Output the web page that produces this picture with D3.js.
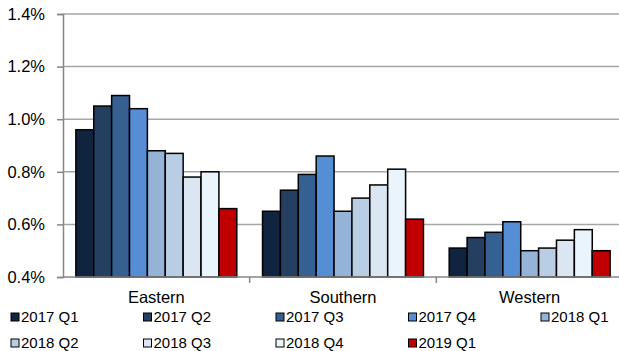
<!DOCTYPE html>
<html>
<head>
<meta charset="utf-8">
<script src="https://cdn.jsdelivr.net/npm/d3@7"></script>
<style>
  html, body { margin: 0; padding: 0; background: #fff; }
  svg { display: block; font-family: "Liberation Sans", Arial, sans-serif; }
</style>
</head>
<body>
<svg id="chart" width="619" height="351"></svg>
<script>
// Regions along the x axis
const regions = ["Eastern", "Southern", "Western"];
// Quarterly series, in legend order
const quarters = ["2017 Q1", "2017 Q2", "2017 Q3", "2017 Q4", "2018 Q1",
                  "2018 Q2", "2018 Q3", "2018 Q4", "2019 Q1"];
// Rates (%) per region, one value per quarter
const eastern  = [0.96, 1.05, 1.09, 1.04, 0.88, 0.87, 0.78, 0.80, 0.66];
const southern = [0.65, 0.73, 0.79, 0.86, 0.65, 0.70, 0.75, 0.81, 0.62];
const western  = [0.51, 0.55, 0.57, 0.61, 0.50, 0.51, 0.54, 0.58, 0.50];
const yTicks = [0.4, 0.6, 0.8, 1.0, 1.2, 1.4];
const colors = ["#10243f", "#243f60", "#366092", "#558ed5", "#95b3d7",
                "#b9cde5", "#dce6f2", "#eaf4fd", "#c00000"];

const values = { Eastern: eastern, Southern: southern, Western: western };

const svg = d3.select("#chart");
const plotLeft = 63, plotRight = 623, plotTop = 14, plotBottom = 277;
const fontFamily = "Liberation Sans, Arial, sans-serif";

const x0 = d3.scaleBand().domain(regions).range([plotLeft, plotRight]).paddingInner(0).paddingOuter(0);
const x1 = d3.scaleBand().domain(quarters).range([0, x0.bandwidth()]).paddingInner(0).paddingOuter(0.72);
const y = d3.scaleLinear().domain([0.4, 1.4]).range([plotBottom, plotTop]);
const color = d3.scaleOrdinal().domain(quarters).range(colors);

// Horizontal gridlines
svg.append("g")
  .selectAll("line")
  .data(yTicks.filter(t => t > 0.4))
  .join("line")
  .attr("x1", plotLeft).attr("x2", 619)
  .attr("y1", d => y(d)).attr("y2", d => y(d))
  .attr("stroke", "#a6a6a6").attr("stroke-width", 1.5);

// Y axis
const yAxis = svg.append("g")
  .attr("transform", `translate(${plotLeft},0)`)
  .call(d3.axisLeft(y).tickValues(yTicks).tickSize(6).tickPadding(12)
        .tickFormat(d => d.toFixed(1) + "%"));
yAxis.select(".domain").attr("stroke", "#868686").attr("stroke-width", 1.5);
yAxis.selectAll(".tick line").attr("stroke", "#868686").attr("stroke-width", 1.5);
yAxis.selectAll(".tick text").attr("font-size", 16.5).attr("fill", "#000")
  .attr("font-family", fontFamily);

// Bars
const groups = svg.append("g")
  .selectAll("g")
  .data(regions)
  .join("g")
  .attr("transform", d => `translate(${x0(d)},0)`);

groups.selectAll("rect")
  .data(r => quarters.map((q, i) => ({ q, v: values[r][i] })))
  .join("rect")
  .attr("x", d => x1(d.q))
  .attr("width", x1.bandwidth())
  .attr("y", d => y(d.v))
  .attr("height", d => plotBottom - y(d.v))
  .attr("fill", d => color(d.q))
  .attr("stroke", "#000")
  .attr("stroke-width", 1.5);

// X axis with category separators
const xAxisG = svg.append("g").attr("transform", `translate(0,${plotBottom})`);
xAxisG.append("line")
  .attr("x1", plotLeft).attr("x2", 619).attr("y1", 0).attr("y2", 0)
  .attr("stroke", "#868686").attr("stroke-width", 1.5);
xAxisG.selectAll("line.sep")
  .data(regions.slice(1))
  .join("line")
  .attr("class", "sep")
  .attr("x1", d => x0(d)).attr("x2", d => x0(d))
  .attr("y1", 0).attr("y2", 6)
  .attr("stroke", "#868686").attr("stroke-width", 1.5);
xAxisG.selectAll("text")
  .data(regions)
  .join("text")
  .attr("x", d => x0(d) + x0.bandwidth() / 2)
  .attr("y", 26)
  .attr("text-anchor", "middle")
  .attr("font-size", 16.5)
  .attr("font-family", fontFamily)
  .attr("fill", "#000")
  .text(d => d);

// Legend: two rows of five
const legend = svg.append("g");
const item = legend.selectAll("g")
  .data(quarters)
  .join("g")
  .attr("transform", (d, i) => `translate(${11 + (i % 5) * 132.5},${i < 5 ? 313 : 339})`);
item.append("rect")
  .attr("width", 8).attr("height", 8)
  .attr("fill", d => color(d))
  .attr("stroke", "#000").attr("stroke-width", 1);
item.append("text")
  .attr("x", 10).attr("y", 9)
  .attr("font-size", 15)
  .attr("font-family", fontFamily)
  .attr("fill", "#000")
  .text(d => d);
</script>
</body>
</html>
